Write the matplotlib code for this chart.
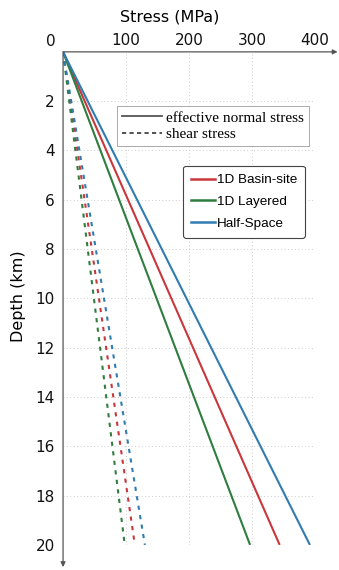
import matplotlib
matplotlib.use("Agg")
import matplotlib.pyplot as plt
from matplotlib.lines import Line2D

# depth profile end points (km) and stresses at those depths (MPa)
depth = [0, 20]
models = ["1D Basin-site", "1D Layered", "Half-Space"]
normal_stress = {
    "1D Basin-site": [0, 344],
    "1D Layered": [0, 297],
    "Half-Space": [0, 392],
}
shear_stress = {
    "1D Basin-site": [0, 114],
    "1D Layered": [0, 98],
    "Half-Space": [0, 130],
}
colors = {"1D Basin-site": "#c9373c", "1D Layered": "#2f7d3f", "Half-Space": "#2f7bb2"}

x_ticks = [100, 200, 300, 400]
y_ticks = [2, 4, 6, 8, 10, 12, 14, 16, 18, 20]

fig = plt.figure(figsize=(3.39, 5.70), dpi=100)
ax = fig.add_axes([0.186, 0.044, 0.743, 0.865])

for m in models:
    ax.plot(normal_stress[m], depth, color=colors[m], lw=1.5, solid_capstyle="butt")
    ax.plot(shear_stress[m], depth, color=colors[m], lw=1.5, dashes=(2, 2.6))

ax.set_xlim(0, 400)
ax.set_ylim(20, 0)
ax.xaxis.tick_top()
ax.set_xticks(x_ticks)
ax.set_yticks(y_ticks)
ax.tick_params(length=0, labelsize=11, colors="#111111")
ax.tick_params(axis="x", pad=3)
ax.tick_params(axis="y", pad=6)
ax.grid(True, ls=(0, (1, 2.5)), color="#cccccc", lw=0.7)
for s in ax.spines.values():
    s.set_visible(False)

# axes with arrows, extending past the data area
ax.annotate("", xy=(1.09, 1), xytext=(0, 1), xycoords="axes fraction",
            arrowprops=dict(arrowstyle="-|>", color="#555555", lw=0.9,
                            mutation_scale=7, shrinkA=0, shrinkB=0))
ax.annotate("", xy=(0, -0.045), xytext=(0, 1), xycoords="axes fraction",
            arrowprops=dict(arrowstyle="-|>", color="#555555", lw=0.9,
                            mutation_scale=7, shrinkA=0, shrinkB=0))

ax.text(-0.05, 1.022, "0", transform=ax.transAxes, ha="center", va="center",
        fontsize=11, color="#111111")
fig.text(0.5, 0.97, "Stress (MPa)", ha="center", va="center", fontsize=11.5)
fig.text(0.055, 0.48, "Depth (km)", ha="center", va="center", rotation=90, fontsize=11.5)

# line style legend
style_handles = [Line2D([], [], color="#555555", lw=1.3),
                 Line2D([], [], color="#333333", lw=1.2, dashes=(2.5, 2))]
leg1 = ax.legend(style_handles, ["effective normal stress", "shear stress"],
                 loc="upper left", bbox_to_anchor=(0.214, 0.89),
                 prop={"family": "Liberation Serif", "size": 11},
                 fancybox=False, edgecolor="#aaaaaa", framealpha=1,
                 handlelength=2.6, handletextpad=0.3, borderpad=0.32,
                 labelspacing=0.2, borderaxespad=0)
leg1.get_frame().set_linewidth(0.7)
ax.add_artist(leg1)

# model legend
model_handles = [Line2D([], [], color=colors[m], lw=1.8) for m in models]
leg2 = ax.legend(model_handles, models, loc="upper right",
                 bbox_to_anchor=(0.96, 0.769),
                 prop={"family": "Liberation Sans", "size": 9.7},
                 fancybox=True, edgecolor="#444444", framealpha=1,
                 handlelength=1.8, handletextpad=0.1, borderpad=0.6,
                 labelspacing=0.7, borderaxespad=0)
leg2.get_frame().set_linewidth(0.8)

fig.savefig("out.png", dpi=100)
